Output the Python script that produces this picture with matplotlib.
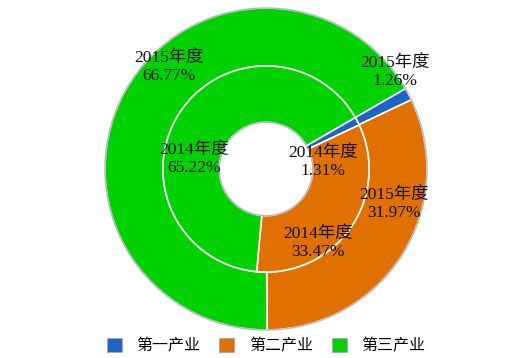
import matplotlib
matplotlib.use("Agg")
import matplotlib.pyplot as plt
from matplotlib.patches import Patch, Circle

categories = ["第一产业", "第二产业", "第三产业"]
values_2015 = [1.26, 31.97, 66.77]
values_2014 = [1.31, 33.47, 65.22]
year_2015 = "2015年度"
year_2014 = "2014年度"
colors = ["#1e64c8", "#e07000", "#00d200"]

W, H, DPI = 532, 358, 100
fig = plt.figure(figsize=(W / DPI, H / DPI), dpi=DPI)
cx, cy, R = 266, 169, 161
ax = fig.add_axes([(cx - R) / W, (H - cy - R) / H, 2 * R / W, 2 * R / H])
ax.axis("off")

r_out, r_mid, r_hole = 1.0, 0.64, 0.29
start = 30
wp = dict(edgecolor="white", linewidth=1.2)
ax.pie(values_2015, radius=r_out, colors=colors, startangle=start, counterclock=False,
       wedgeprops=dict(width=r_out - r_mid, **wp))
ax.pie(values_2014, radius=r_mid, colors=colors, startangle=start, counterclock=False,
       wedgeprops=dict(width=r_mid - r_hole, **wp))
ax.set_xlim(-1.0, 1.0)
ax.set_ylim(-1.0, 1.0)
ax.set_aspect("equal")
ax.add_patch(Circle((0, 0), r_out, fill=False, edgecolor="#b4b4c4", linewidth=1.0, clip_on=False))
ax.add_patch(Circle((0, 0), r_hole, fill=False, edgecolor="#b4b4c4", linewidth=1.0))

font = ["Liberation Serif", "Noto Sans CJK SC"]

def px(x, y):
    return ((x - cx) / R, (cy - y) / R)

label_px_2015 = [(395, 72), (394, 204), (169, 67)]
label_px_2014 = [(323, 162), (318, 243), (194, 159)]
for v, p in zip(values_2015, label_px_2015):
    ax.text(*px(*p), f"{year_2015}\n{v:.2f}%", ha="center", va="center", fontsize=12.5,
            family=font, linespacing=1.15, color="#111111")
for v, p in zip(values_2014, label_px_2014):
    ax.text(*px(*p), f"{year_2014}\n{v:.2f}%", ha="center", va="center", fontsize=12.5,
            family=font, linespacing=1.15, color="#111111")

handles = [Patch(facecolor=c, edgecolor="#aaaaaa", linewidth=0.8) for c in colors]
fig.legend(handles, categories, loc="lower center", bbox_to_anchor=(0.5, -0.03), ncol=3,
           frameon=False, prop={"family": ["Noto Sans CJK SC"], "size": 11.5},
           handlelength=0.95, handleheight=0.95, handletextpad=0.9, columnspacing=1.2)

fig.savefig("out.png", dpi=DPI)
